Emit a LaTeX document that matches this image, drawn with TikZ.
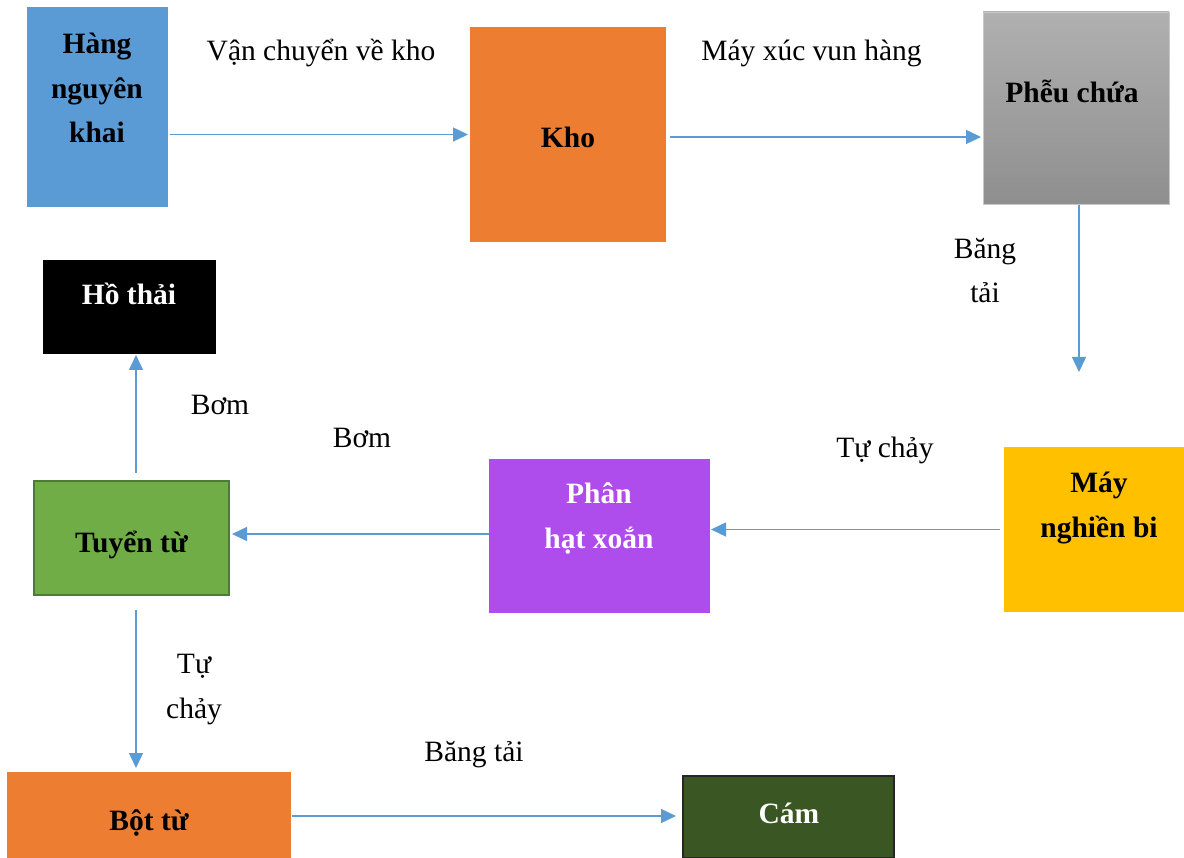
\documentclass[tikz,border=0pt]{standalone}
\usepackage{fontspec}
\setmainfont{Liberation Serif}
\usetikzlibrary{arrows.meta}

\definecolor{flowblue}{HTML}{5B9BD5}
\definecolor{boxblue}{HTML}{5B9BD5}
\definecolor{boxorange}{HTML}{ED7D31}
\definecolor{boxgreen}{HTML}{70AD47}
\definecolor{greenedge}{HTML}{4E7B31}
\definecolor{boxpurple}{HTML}{AF4DEC}
\definecolor{boxyellow}{HTML}{FFC000}
\definecolor{darkgreen}{HTML}{3A5723}
\definecolor{grayedge}{HTML}{C8C8C8}

\begin{document}
\begin{tikzpicture}[x=1pt,y=-1pt,
  block/.style={rectangle, inner sep=0pt, outer sep=0pt},
  txt/.style={font=\fontsize{29.5}{44.5}\selectfont, align=center, inner sep=0pt, anchor=base},
  btxt/.style={txt, font=\fontsize{29.5}{44.5}\selectfont\bfseries},
  flow/.style={draw=flowblue, line width=1.4pt, -{Triangle[length=15pt,width=14pt]}}]

\useasboundingbox[fill=white] (0,0) rectangle (1184,858);

% process blocks
\node[block, fill=boxblue, minimum width=141pt, minimum height=200pt] (hang) at (97.5,107) {};
\node[block, fill=boxorange, minimum width=196pt, minimum height=215pt] (kho) at (568,134.5) {};
\node[block, top color=black!31, bottom color=black!44, draw=grayedge, line width=0.8pt,
      minimum width=186pt, minimum height=192pt] (pheu) at (1076,108) {};
\node[block, fill=black, minimum width=173pt, minimum height=94pt] (ho) at (129.5,307) {};
\node[block, fill=boxgreen, draw=greenedge, line width=2pt, minimum width=195pt, minimum height=114pt] (tuyen) at (131.5,538) {};
\node[block, fill=boxpurple, minimum width=221pt, minimum height=154pt] (phan) at (599.5,536) {};
\node[block, fill=boxyellow, minimum width=180pt, minimum height=165pt] (may) at (1094,529.5) {};
\node[block, fill=boxorange, minimum width=284pt, minimum height=86pt] (bot) at (149,815) {};
\node[block, fill=darkgreen, draw=black!85, line width=1.2pt, minimum width=211pt, minimum height=82pt] (cam) at (788.5,817) {};

% block captions (base anchor = baseline of the last line)
\node[btxt] (hangT) at (97,143) {Hàng\\nguyên\\khai};
\node[btxt] (khoT) at (568,148) {Kho};
\node[btxt] (pheuT) at (1072,103) {Phễu chứa};
\node[btxt, text=white] (hoT) at (129,305) {Hồ thải};
\node[btxt] (tuyenT) at (131.5,552) {Tuyển từ};
\node[btxt, text=white] (phanT) at (599,548) {Phân\\hạt xoắn};
\node[btxt] (mayT) at (1099,537) {Máy\\nghiền bi};
\node[btxt] (botT) at (149,830) {Bột từ};
\node[btxt, text=white] (camT) at (789,823) {Cám};

% transport labels
\node[txt] (lVan) at (321,61) {Vận chuyển về kho};
\node[txt] (lXuc) at (811.5,61) {Máy xúc vun hàng};
\node[txt] (lBang1) at (985,303) {Băng\\tải};
\node[txt] (lTu1) at (885,458) {Tự chảy};
\node[txt] (lBom1) at (220,415) {Bơm};
\node[txt] (lBom2) at (362,448) {Bơm};
\node[txt] (lTu2) at (194,718) {Tự\\chảy};
\node[txt] (lBang2) at (474,761) {Băng tải};

% material flow
\draw[flow, shorten <=2pt, shorten >=2pt] (hang.east |- kho.west) -- (kho.west);
\draw[flow, shorten <=4pt, shorten >=2pt] ([yshift=-2.5pt]kho.east) -- ([yshift=-2.5pt]kho.east -| pheu.west);
\draw[flow, shorten <=1pt, shorten >=75pt] ([xshift=3pt]pheu.south) -- ([xshift=3pt]pheu.south |- may.north);
\draw[flow, shorten <=4pt, shorten >=1pt] (may.west) -- (may.west -| phan.east);
\draw[flow, shorten >=3pt] ([yshift=2pt]phan.west) -- ([yshift=2pt]phan.west -| tuyen.east);
\draw[flow, shorten <=8pt, shorten >=1pt] ([xshift=4.5pt]tuyen.north) -- ([xshift=4.5pt]tuyen.north |- ho.south);
\draw[flow, shorten <=15pt, shorten >=4pt] ([xshift=4.5pt]tuyen.south) -- ([xshift=4.5pt]tuyen.south |- bot.north);
\draw[flow, shorten <=1pt, shorten >=7pt] ([yshift=-1pt]bot.east) -- ([yshift=-1pt]bot.east -| cam.west);

\end{tikzpicture}
\end{document}
